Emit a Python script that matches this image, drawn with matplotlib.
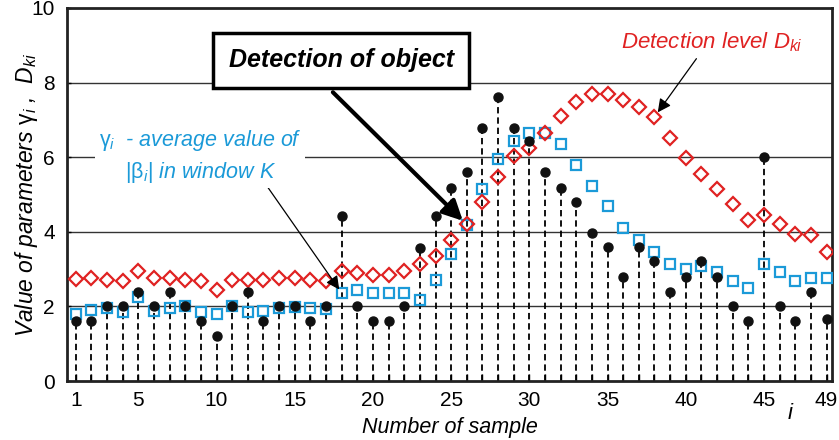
import matplotlib.pyplot as plt
import numpy as np

plt.rcParams['font.family'] = ['Liberation Sans', 'DejaVu Sans']
plt.rcParams['mathtext.fontset'] = 'custom'
plt.rcParams['mathtext.rm'] = 'Liberation Sans'
plt.rcParams['mathtext.it'] = 'Liberation Sans:italic'

# sample numbers
samples = np.arange(1, 50)

# |beta_i| values (black dots on dashed stems)
beta = [1.61, 1.61, 2.0, 2.0, 2.38, 2.0, 2.38, 2.0, 1.61, 1.2,
        2.0, 2.38, 1.61, 2.0, 2.0, 1.61, 2.0, 4.41, 2.0, 1.61,
        1.61, 2.0, 3.57, 4.41, 5.18, 5.6, 6.79, 7.61, 6.79, 6.43,
        5.6, 5.18, 4.81, 3.98, 3.58, 2.8, 3.58, 3.21, 2.39, 2.8,
        3.21, 2.8, 2.0, 1.62, 6.0, 2.0, 1.62, 2.39, 1.67]

# gamma_i - average value (blue squares)
gamma = [1.80, 1.91, 1.96, 1.85, 2.26, 1.89, 1.95, 2.0, 1.84, 1.80,
         2.0, 1.85, 1.89, 1.95, 1.98, 1.95, 1.94, 2.36, 2.45, 2.36,
         2.36, 2.36, 2.18, 2.70, 3.41, 4.19, 5.14, 5.96, 6.43, 6.66,
         6.66, 6.34, 5.78, 5.24, 4.70, 4.10, 3.77, 3.46, 3.14, 2.99,
         3.08, 2.92, 2.68, 2.49, 3.14, 2.91, 2.68, 2.77, 2.77]

# detection level D_ki (red diamonds)
dlevel = [2.74, 2.76, 2.72, 2.67, 2.94, 2.75, 2.75, 2.72, 2.67, 2.43,
          2.72, 2.72, 2.72, 2.75, 2.75, 2.71, 2.67, 2.94, 2.90, 2.85,
          2.85, 2.94, 3.13, 3.35, 3.77, 4.22, 4.80, 5.47, 6.02, 6.24,
          6.66, 7.10, 7.48, 7.70, 7.70, 7.54, 7.34, 7.08, 6.52, 5.98,
          5.56, 5.14, 4.74, 4.32, 4.45, 4.22, 3.95, 3.91, 3.45]

xtick_labels = [1, 5, 10, 15, 20, 25, 30, 35, 40, 45, 49]
ytick_labels = [0, 2, 4, 6, 8, 10]

blue = '#1b9ad8'
red = '#e02222'

fig = plt.figure(figsize=(8.39, 4.40), dpi=100)
ax = fig.add_axes([0.0802, 0.134, 0.9115, 0.848])

# grid lines
for yv in [2, 4, 6, 8]:
    ax.axhline(yv, color='#333333', lw=1.0, zorder=1)

# markers
ax.plot(samples, gamma, 's', ms=7.2, mfc='none', mec=blue, mew=1.6, zorder=3)
ax.plot(samples, dlevel, 'D', ms=6.8, mfc='none', mec=red, mew=1.6, zorder=4)

# stems
ax.vlines(samples, 0, beta, colors='black', linestyles=(0, (3.5, 2.2)), lw=1.3, zorder=2)
ax.plot(samples, beta, 'o', ms=6.5, color='#111111', zorder=5)

ax.set_xlim(0.46, 49.35)
ax.set_ylim(0, 10)
ax.set_xticks(xtick_labels)
ax.set_xticks(samples, minor=True)
ax.set_yticks(ytick_labels)
ax.tick_params(axis='x', which='both', direction='in', length=5, width=1, labelsize=15, pad=7)
ax.tick_params(axis='y', which='both', direction='in', length=3, width=1, labelsize=15, pad=9)
for s in ax.spines.values():
    s.set_linewidth(2)
    s.set_color('#222222')

ax.set_xlabel('Number of sample', fontsize=15.5, style='italic', labelpad=5)
ax.set_ylabel(r'Value of parameters $\mathrm{\gamma}_i$ ,  $D_{ki}$', fontsize=16.5,
              style='italic')
ax.yaxis.set_label_coords(-0.036, 0.5)
ax.text(46.64, -0.86, 'i', fontsize=16, style='italic', ha='center', va='center', clip_on=False)

# annotation box with thick arrow
ax.annotate('', xy=(26, gamma[25]), xytext=(17.44, 7.74),
            arrowprops=dict(arrowstyle='-|>', lw=3, color='black', mutation_scale=30,
                            shrinkA=0, shrinkB=4), zorder=6)
ax.text(17.98, 8.6, 'Detection of object', fontsize=18, weight='bold', style='italic',
        ha='center', va='center', zorder=7,
        bbox=dict(boxstyle='square,pad=0.62', fc='white', ec='black', lw=2.5))

# gamma label
ax.annotate('', xy=(18, gamma[17]), xytext=(13.2, 5.24),
            arrowprops=dict(arrowstyle='-|>', lw=0.9, color='black', mutation_scale=20,
                            shrinkA=0, shrinkB=3), zorder=6)
ax.text(8.95, 6.02, r'$\mathrm{\gamma}_i$  - average value of' + '\n' + r'$|\mathrm{\beta}_i|$ in window K',
        fontsize=15.5, style='italic', color=blue, ha='center', va='center',
        linespacing=1.35, zorder=6,
        bbox=dict(boxstyle='square,pad=0.15', fc='white', ec='none'))

# detection level label
ax.annotate('', xy=(38, dlevel[37]), xytext=(40.68, 8.64),
            arrowprops=dict(arrowstyle='-|>', lw=0.9, color='black', mutation_scale=20,
                            shrinkA=0, shrinkB=4), zorder=6)
ax.text(41.66, 9.07, r'Detection level $D_{ki}$', fontsize=16, style='italic', color=red,
        ha='center', va='center', zorder=6)

plt.savefig('out.png', dpi=100)
